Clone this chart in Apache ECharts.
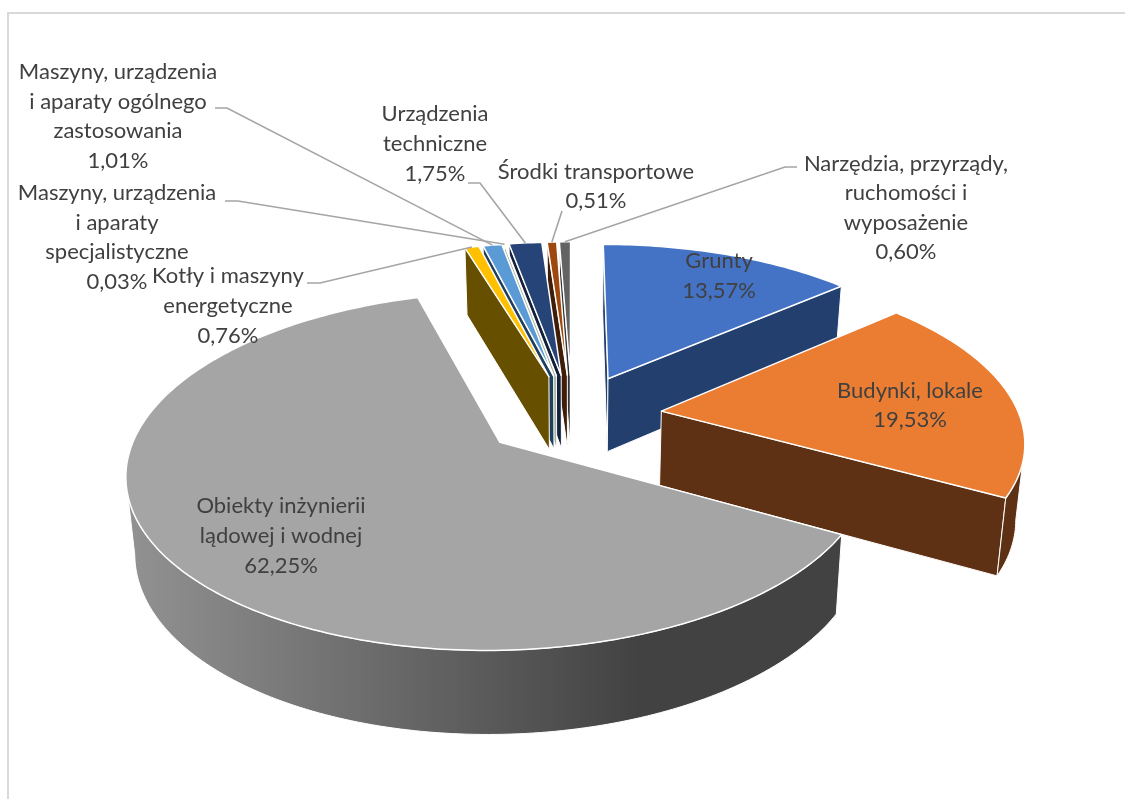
<!DOCTYPE html>
<html><head><meta charset="utf-8">
<style>html,body{margin:0;padding:0;background:#fff}#c{width:1125px;height:799px}</style>
<script src="https://cdn.jsdelivr.net/npm/echarts@6/dist/echarts.min.js"></script>
</head><body><div id="c"></div>
<script>
const categories = ['Grunty','Budynki, lokale','Obiekty inżynierii\nlądowej i wodnej','Kotły i maszyny\nenergetyczne','Maszyny, urządzenia\ni aparaty ogólnego\nzastosowania','Maszyny, urządzenia\ni aparaty\nspecjalistyczne','Urządzenia\ntechniczne','Środki transportowe','Narzędzia, przyrządy,\nruchomości i\nwyposażenie'];
const values = [13.57,19.53,62.25,0.76,1.01,0.03,1.75,0.51,0.60];
const topColors = ['#4472C4','#EB7D32','#A5A5A5','#FFC000','#5B9BD5','#70AD47','#264478','#9E480E','#636363'];
const wallColors = ['#223F6E','#5F3114','#424242','#665000','#1F3F5F','#A9B4A0','#12203A','#3F1D06','#333333'];
const drawOrder = [8,7,6,5,4,3,0,1,2];

// projection of the 3D pie
const P = {x0:572,y0:415.5,A:358,B:166,k:0.157,e:0.252,D:74.5,s:0.98};
const total = values.reduce((a,b)=>a+b,0);
const ang = [];
let acc = 0;
values.forEach(v=>{const a=acc/total*2*Math.PI;acc+=v;ang.push([a,acc/total*2*Math.PI]);});
function proj(U,V){const w=1-P.k*V;return [P.x0+P.A*U/w,P.y0+P.B*V/w,w];}
function base(p){return [P.x0+(p[0]-P.x0)*P.s,p[1]+P.D/Math.pow(p[2],0.6)];}
function sliceTop(i){
  const [a,b]=ang[i],m=(a+b)/2,ox=P.e*Math.sin(m),oy=-P.e*Math.cos(m);
  const pts=[proj(ox,oy)];
  const n=Math.max(2,Math.ceil((b-a)/(Math.PI/180)));
  for(let j=0;j<=n;j++){const t=a+(b-a)*j/n;pts.push(proj(ox+Math.sin(t),oy-Math.cos(t)));}
  return pts;
}
function rimMid(i){
  const [a,b]=ang[i],m=(a+b)/2;
  return proj((P.e+1)*Math.sin(m),-(P.e+1)*Math.cos(m));
}
function poly(points,fill,lw){
  return {type:'polygon',shape:{points:points.map(p=>[p[0],p[1]])},style:{fill:fill,stroke:'#fff',lineWidth:lw,lineJoin:'round'},silent:true};
}
function wallFill(i){
  if(i!==2) return wallColors[i];
  return {type:'linear',x:127,y:0,x2:640,y2:0,global:true,colorStops:[{offset:0,color:'#929292'},{offset:0.45,color:'#6E6E6E'},{offset:1,color:wallColors[2]}]};
}
function renderSlice(params){
  const i=drawOrder[params.dataIndex];
  const pts=sliceTop(i),kids=[];
  const N=pts.length;
  // walls: every run of top-boundary edges that runs right to left faces the viewer
  const edge=(p,q)=>q[0]<p[0]-1e-6;
  const apexStart=[pts[0],pts[1]],endApex=[pts[N-1],pts[0]];
  const walls=[];
  if(edge(apexStart[0],apexStart[1])) walls.push(apexStart);
  if(edge(endApex[0],endApex[1])) walls.push(endApex);
  let run=[];
  for(let j=1;j<N-1;j++){
    if(edge(pts[j],pts[j+1])){ if(!run.length) run.push(pts[j]); run.push(pts[j+1]); }
    else if(run.length){walls.push(run);run=[];}
  }
  if(run.length) walls.push(run);
  walls.forEach(w=>{kids.push(poly(w.concat(w.map(base).reverse()),wallFill(i),1));});
  kids.push(poly(pts,topColors[i],1.5));
  return {type:'group',children:kids};
}
const pct=v=>v.toFixed(2).replace('.',',')+'%';
// label boxes: [centre x, centre y], optional elbow of the leader line
const labelPos=[[719,276],[910,405.5],[281,536],[228,306],[118,116.5],[117,237.5],[435,144],[596,186.5],[906,208]];
const elbows=[null,null,null,[[307,283],[320,283]],[[215,108],[227,108]],[[225,201],[238,201]],[[468,183],[480,183]],[[562,211],[562,211]],[[797,167],[785,167]]];
function renderLabel(params){
  const i=params.dataIndex,kids=[];
  if(elbows[i]){
    const m=rimMid(i);
    kids.push({type:'polyline',shape:{points:elbows[i].concat([[m[0],m[1]]])},style:{fill:null,stroke:'#A5A5A5',lineWidth:1.6},silent:true});
  }
  kids.push({type:'text',x:labelPos[i][0],y:labelPos[i][1],style:{text:categories[i]+'\n'+pct(values[i]),font:'22px Lato',lineHeight:29.6,fill:'#404040',align:'center',verticalAlign:'middle'},silent:true});
  return {type:'group',children:kids};
}
const chart=echarts.init(document.getElementById('c'),null,{renderer:'canvas'});
chart.setOption({
  animation:false,
  backgroundColor:'#fff',
  graphic:[
    {type:'line',shape:{x1:8,y1:13,x2:1125,y2:13},style:{stroke:'#D9D9D9',lineWidth:2},silent:true},
    {type:'line',shape:{x1:8,y1:12,x2:8,y2:799},style:{stroke:'#D9D9D9',lineWidth:2},silent:true}
  ],
  series:[
    {type:'custom',coordinateSystem:'none',clip:false,z:2,renderItem:renderSlice,data:drawOrder.map(i=>values[i])},
    {type:'custom',coordinateSystem:'none',clip:false,z:3,renderItem:renderLabel,data:values}
  ]
});
</script></body></html>
